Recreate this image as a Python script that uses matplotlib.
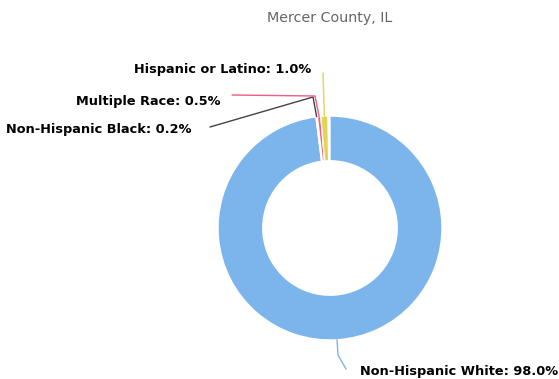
import numpy as np
import matplotlib.pyplot as plt

# shares of population
categories = ["Non-Hispanic White", "Non-Hispanic Black", "Multiple Race", "Hispanic or Latino"]
shares = [98.0, 0.2, 0.5, 1.0]
colors = ["#7cb5ec", "#434348", "#f15c80", "#e4d354"]
title = "Mercer County, IL"

W, H = 559, 379
fig = plt.figure(figsize=(W / 100, H / 100), dpi=100)
ax = fig.add_axes([0, 0, 1, 1])

# donut geometry in pixel units (y measured from the bottom)
cx, cy, r = 330, H - 228, 112
fracs = [s / 100 for s in shares]
wedges, _ = ax.pie(fracs, colors=colors, startangle=90, counterclock=False,
                   normalize=False, center=(cx, cy), radius=r,
                   wedgeprops=dict(width=r * 0.4, edgecolor="white", linewidth=1))
ax.set_xlim(0, W)
ax.set_ylim(0, H)
ax.set_aspect("equal")
ax.axis("off")

# label layout: (text x, text y, ha, connector points after the edge point) in pixel coords (y down)
layout = [
    (360, 371, "left", [(338, 355), (346, 369)]),
    (191, 130, "right", [(313, 97), (210, 127)]),
    (221, 101, "right", [(315, 96), (232, 95)]),
    (311, 70, "right", [(323, 73)]),
]

for w, cat, val, col, (tx, ty, ha, pts) in zip(wedges, categories, shares, colors, layout):
    mid = np.deg2rad((w.theta1 + w.theta2) / 2)
    ex = cx + r * np.cos(mid)
    ey = cy + r * np.sin(mid)
    xs = [ex] + [p[0] for p in pts]
    ys = [ey] + [H - p[1] for p in pts]
    ax.plot(xs, ys, color=col, lw=1, solid_capstyle="round")
    ax.text(tx, H - ty, f"{cat}: {val:.1f}%", ha=ha, va="center",
            fontsize=9.3, fontweight="bold", family="DejaVu Sans", color="black")

ax.text(330, H - 18, title, ha="center", va="center", fontsize=10.3,
        color="#666666", family="DejaVu Sans")

fig.savefig("out.png", dpi=100)
